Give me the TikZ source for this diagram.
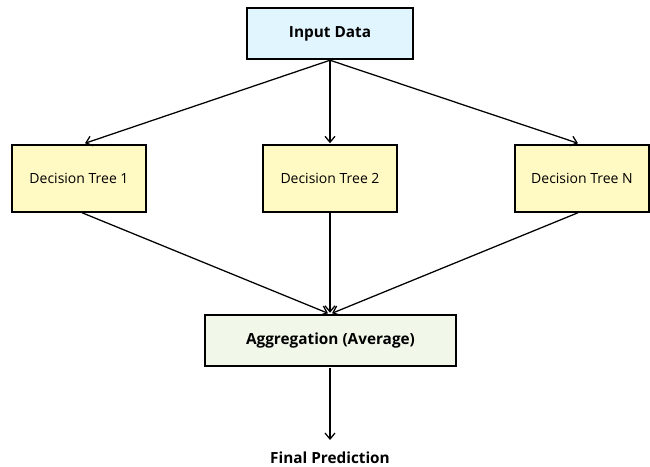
\documentclass[tikz,border=0pt]{standalone}
\usepackage{fontspec}
\setmainfont{Open Sans}
\usetikzlibrary{arrows.meta,calc}
\definecolor{inblue}{HTML}{E1F5FE}
\definecolor{dtyellow}{HTML}{FFF9C4}
\definecolor{agggreen}{HTML}{F1F8E9}
\tikzset{
  box/.style={draw=black, line width=1.1pt, inner sep=0pt, align=center},
  treebox/.style={box, fill=dtyellow, minimum width=100.5pt, minimum height=50.25pt, font=\fontsize{10.5pt}{12pt}\selectfont},
  boldtxt/.style={font=\bfseries\fontsize{11.5pt}{13pt}\selectfont},
  conn/.style={line width=0.95pt, -{Straight Barb[length=4.5pt,width=7.5pt,line width=0.95pt]}}
}
\begin{document}
\begin{tikzpicture}[x=0.75pt,y=-0.75pt]
\useasboundingbox (0,0) rectangle (650,467);
\node[box, fill=inblue, minimum width=124.5pt, minimum height=38.25pt, boldtxt] (in) at (330,33.5) {Input Data};
\node[treebox] (dt1) at (79,178.5) {Decision Tree 1};
\node[treebox] (dt2) at (330,178.5) {Decision Tree 2};
\node[treebox] (dtn) at (582,178.5) {Decision Tree N};
\node[box, fill=agggreen, minimum width=188.25pt, minimum height=38.25pt, boldtxt] (agg) at (330.5,340.5) {Aggregation (Average)};
\node[boldtxt, inner sep=0pt] (fin) at (330,458) {Final Prediction};
\coordinate (finTop) at (330,440);
\draw[conn] ($(in.south)+(0,0.5)$) -- ($(dt1.north)+(6,-1)$);
\draw[conn] ($(in.south)+(0,0.5)$) -- ($(dt2.north)+(0,-1)$);
\draw[conn] ($(in.south)+(0,0.5)$) -- ($(dtn.north)+(-4,-1)$);
\draw[conn] ($(dt1.south)+(3,0)$) -- ($(agg.north)+(-2.5,-1)$);
\draw[conn] (dt2.south) -- ($(agg.north)+(-0.5,-1.5)$);
\draw[conn] ($(dtn.south)+(-4,0)$) -- ($(agg.north)+(1.5,-1)$);
\draw[conn] ($(agg.south)+(-0.5,1)$) -- (finTop);
\end{tikzpicture}
\end{document}
